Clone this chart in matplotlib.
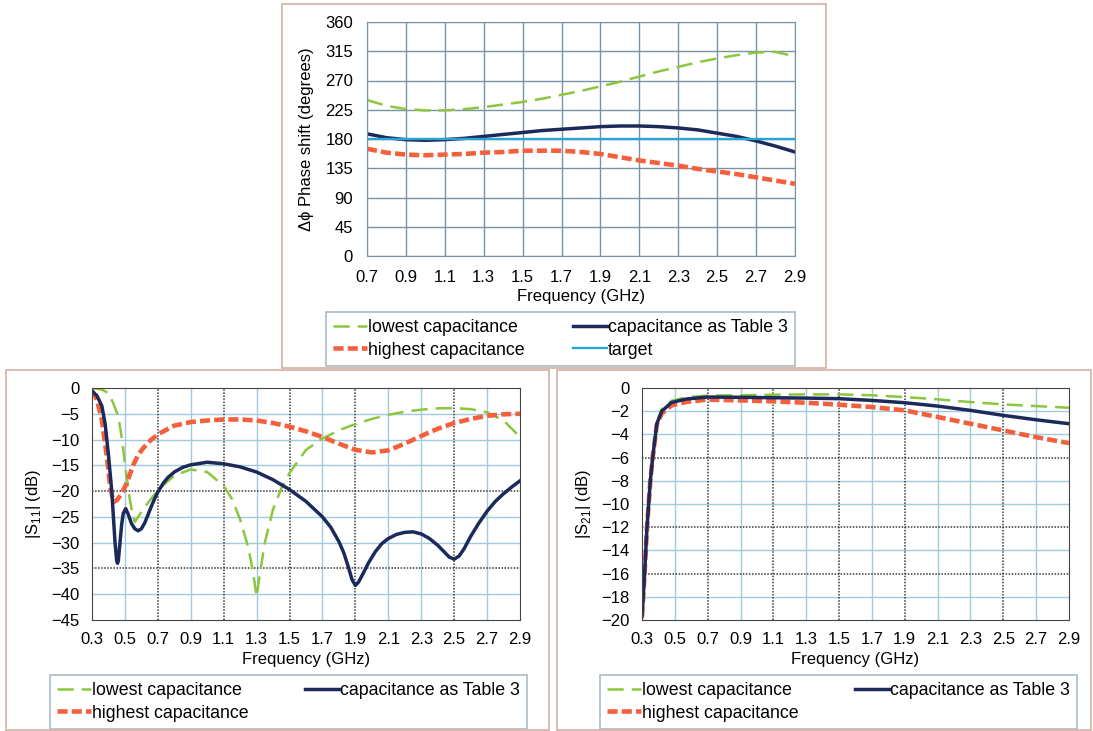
import matplotlib.pyplot as plt
from matplotlib.patches import Rectangle

plt.rcParams["font.family"] = ["Liberation Sans", "DejaVu Sans"]
plt.rcParams["font.size"] = 12

# --- phase shift (top) ---
f_phase = [0.7, 0.8, 0.9, 1.0, 1.1, 1.2, 1.3, 1.4, 1.5, 1.6, 1.7, 1.8,
           1.9, 2.0, 2.1, 2.2, 2.3, 2.4, 2.5, 2.6, 2.7, 2.8, 2.9]
phase_low = [240, 231, 226, 224, 224, 226, 229, 233, 237, 242, 248, 254,
             261, 268, 276, 284, 291, 298, 304, 309, 313, 314, 307]
phase_tab3 = [188, 182, 179, 178, 179, 181, 184, 187, 190, 193, 195, 197,
              199, 200, 200, 199, 197, 194, 189, 184, 177, 169, 160]
phase_high = [165, 159, 156, 155, 156, 157, 159, 160, 162, 162, 162, 160,
              157, 152, 147, 143, 139, 134, 130, 126, 121, 116, 111]
phase_target = [180] * len(f_phase)

# --- S11 (bottom left) ---
f11_low = [0.30, 0.36, 0.40, 0.43, 0.46, 0.48, 0.50, 0.53, 0.55, 0.56, 0.58,
           0.63, 0.70, 0.80, 0.90, 1.00, 1.10, 1.15, 1.20, 1.25, 1.28, 1.30,
           1.32, 1.35, 1.40, 1.45, 1.50, 1.60, 1.70, 1.80, 1.90, 2.00, 2.10,
           2.20, 2.30, 2.40, 2.50, 2.60, 2.70, 2.80, 2.90]
s11_low = [0, -0.3, -1, -3, -5.6, -9.5, -14.6, -21.7, -25, -26, -25,
           -22.7, -19.8, -17, -15.8, -16.3, -19, -21.5, -25.5, -31, -36, -40.5,
           -36, -30, -23.5, -19.5, -16.5, -12, -9.8, -8.2, -7, -6, -5.2,
           -4.6, -4.2, -3.95, -3.9, -4.1, -4.7, -6.3, -9.5]
f11_tab3 = [0.30, 0.33, 0.36, 0.38, 0.39, 0.40, 0.42, 0.43, 0.44, 0.45, 0.455,
            0.46, 0.47, 0.48, 0.49, 0.505, 0.52, 0.54, 0.56, 0.58, 0.60, 0.62,
            0.64, 0.66, 0.68, 0.70, 0.73, 0.76, 0.80, 0.85, 0.90, 1.00, 1.10,
            1.20, 1.30, 1.40, 1.50, 1.60, 1.70, 1.75, 1.80, 1.83, 1.86, 1.88,
            1.90, 1.92, 1.95, 1.98, 2.02, 2.06, 2.10, 2.15, 2.20, 2.25, 2.30,
            2.35, 2.40, 2.44, 2.47, 2.50, 2.53, 2.56, 2.60, 2.65, 2.70, 2.75,
            2.80, 2.85, 2.90]
s11_tab3 = [-0.6, -1.5, -3.5, -7, -10, -13, -20, -25, -30, -33.5, -34,
            -33.5, -30, -26.5, -24.3, -23.4, -24.5, -26.3, -27.3, -27.7, -27.3, -26.2,
            -24.6, -23, -21.5, -20.2, -18.6, -17.4, -16.3, -15.4, -14.9, -14.4, -14.7,
            -15.3, -16.3, -17.8, -19.7, -22, -25, -27, -29.8, -32, -35, -37.2,
            -38.3, -37.6, -35.8, -33.9, -31.8, -30.2, -29.2, -28.4, -28, -27.9, -28.3,
            -29.2, -30.5, -31.8, -32.8, -33.2, -32.6, -31.2, -28.8, -26.2, -23.9, -22,
            -20.5, -19.2, -18]
f11_high = [0.30, 0.33, 0.36, 0.39, 0.41, 0.43, 0.45, 0.48, 0.51, 0.55, 0.58,
            0.61, 0.66, 0.71, 0.80, 0.90, 1.00, 1.10, 1.20, 1.30, 1.40, 1.50,
            1.60, 1.70, 1.80, 1.90, 2.00, 2.10, 2.20, 2.30, 2.40, 2.50, 2.60,
            2.70, 2.80, 2.90]
s11_high = [-0.5, -2.3, -6.2, -13.3, -19, -22.1, -21.8, -20.5, -18.5, -15, -13,
            -11.7, -10, -8.8, -7.3, -6.6, -6.3, -6.1, -6.1, -6.3, -6.8, -7.5,
            -8.4, -9.5, -10.8, -12, -12.5, -12.1, -10.8, -9.3, -7.9, -6.8, -6,
            -5.4, -5.1, -5]

# --- S21 (bottom right) ---
f21 = [0.30, 0.315, 0.33, 0.35, 0.365, 0.39, 0.42, 0.48, 0.57, 0.70, 0.90,
       1.10, 1.30, 1.50, 1.70, 1.90, 2.10, 2.30, 2.50, 2.70, 2.90]
s21_low = [-19.7, -16.2, -12.1, -8.1, -6, -3.0, -1.8, -1.1, -0.8, -0.65, -0.63,
           -0.58, -0.55, -0.55, -0.63, -0.78, -0.98, -1.21, -1.41, -1.56, -1.7]
s21_tab3 = [-19.7, -16.2, -12.1, -8.1, -6, -3.1, -2.0, -1.25, -0.95, -0.78, -0.8,
            -0.84, -0.87, -0.92, -1.07, -1.27, -1.56, -1.93, -2.36, -2.74, -3.08]
s21_high = [-19.7, -16.2, -12.1, -8.1, -6, -3.2, -2.2, -1.5, -1.2, -1.0, -1.07,
            -1.15, -1.27, -1.44, -1.64, -1.93, -2.5, -3.08, -3.66, -4.24, -4.75]

labels = ["lowest capacitance", "highest capacitance",
          "capacitance as Table 3", "target"]

GREEN = "#8cc63f"
RED = "#f4603e"
NAVY = "#1b2a5a"
CYAN = "#2aa3d6"
TOPGRID = "#7893a8"
LIGHTGRID = "#9fcbe0"
DARKGRID = "#3a3a3a"
FRAME = "#d4b2a2"

W, H = 1093, 731
fig = plt.figure(figsize=(W / 100, H / 100), dpi=100)


def box(x0, y0, x1, y1):
    # pixel coords (top-left origin) -> figure fraction
    return [x0 / W, 1 - y1 / H, (x1 - x0) / W, (y1 - y0) / H]


for b in [(282, 4, 826, 368), (6, 370, 549, 730), (557, 370, 1091, 730)]:
    r = box(*b)
    fig.add_artist(Rectangle((r[0], r[1]), r[2], r[3], transform=fig.transFigure,
                             fill=False, edgecolor=FRAME, linewidth=1.2))


def draw_lines(ax, fx, ys):
    lo = ax.plot(fx[0], ys[0], color=GREEN, lw=1.8, dashes=(6.5, 3.2))[0]
    hi = ax.plot(fx[1], ys[1], color=RED, lw=3.3, dashes=(2.2, 0.9))[0]
    t3 = ax.plot(fx[2], ys[2], color=NAVY, lw=2.5)[0]
    return [lo, hi, t3]


def legend(ax, handles, names, b):
    r = box(*b)
    leg = ax.legend(handles, names, ncol=2, loc="center", mode="expand",
                    bbox_to_anchor=r, bbox_transform=fig.transFigure,
                    fancybox=False, handlelength=1.9, handletextpad=0.05,
                    borderaxespad=0, labelspacing=0.3, fontsize=12.8,
                    borderpad=0.4)
    leg.get_frame().set_edgecolor("#93aabb")
    leg.get_frame().set_linewidth(1.2)


# top panel
ax1 = fig.add_axes(box(367, 22, 795, 256))
h = draw_lines(ax1, [f_phase] * 3, [phase_low, phase_high, phase_tab3])
tg = ax1.plot(f_phase, phase_target, color=CYAN, lw=1.7)[0]
ax1.set_xlim(0.7, 2.9)
ax1.set_ylim(0, 360)
xt1 = [0.7, 0.9, 1.1, 1.3, 1.5, 1.7, 1.9, 2.1, 2.3, 2.5, 2.7, 2.9]
ax1.set_xticks(xt1)
ax1.set_xticklabels([f"{v:.1f}" for v in xt1])
ax1.set_yticks(range(0, 361, 45))
ax1.grid(True, color=TOPGRID, lw=1)
ax1.set_axisbelow(True)
for s in ax1.spines.values():
    s.set_color(TOPGRID)
ax1.tick_params(length=0, pad=10)
ax1.set_xlabel("Frequency (GHz)", labelpad=3)
ax1.set_ylabel("Δϕ Phase shift (degrees)", labelpad=8)
legend(ax1, h[:2] + [h[2], tg], labels, (326, 313, 795, 365))

xt = [0.3, 0.5, 0.7, 0.9, 1.1, 1.3, 1.5, 1.7, 1.9, 2.1, 2.3, 2.5, 2.7, 2.9]
dark_x = [0.7, 1.1, 1.5, 1.9, 2.5]


def bottom_axes(ax, yticks, dark_y):
    ax.set_xlim(0.3, 2.9)
    ax.set_xticks(xt)
    ax.set_xticklabels([f"{v:.1f}" for v in xt])
    ax.set_yticks(yticks)
    ax.set_ylim(yticks[0], yticks[-1])
    for v in xt[1:-1]:
        if v in dark_x:
            ax.axvline(v, color=DARKGRID, lw=1.1, ls=(0, (1, 1)), zorder=0.6)
        else:
            ax.axvline(v, color=LIGHTGRID, lw=1, zorder=0.5)
    for v in yticks[1:-1]:
        if v in dark_y:
            ax.axhline(v, color=DARKGRID, lw=1.1, ls=(0, (1, 1)), zorder=0.6)
        else:
            ax.axhline(v, color=LIGHTGRID, lw=1, zorder=0.5)
    for s in ax.spines.values():
        s.set_color("#444444")
    ax.tick_params(length=0, pad=9)
    ax.set_xlabel("Frequency (GHz)", labelpad=3)


# bottom left
ax2 = fig.add_axes(box(92, 388, 520, 620))
h2 = draw_lines(ax2, [f11_low, f11_high, f11_tab3], [s11_low, s11_high, s11_tab3])
bottom_axes(ax2, list(range(-45, 1, 5)), [-20, -35])
ax2.set_ylabel(r"|S$_{\mathregular{11}}$| (dB)", labelpad=6)
legend(ax2, h2, labels[:3], (50, 677, 527, 727))

# bottom right
ax3 = fig.add_axes(box(642, 388, 1069, 620))
h3 = draw_lines(ax3, [f21] * 3, [s21_low, s21_high, s21_tab3])
bottom_axes(ax3, list(range(-20, 1, 2)), [-6, -12, -16])
ax3.set_ylabel(r"|S$_{\mathregular{21}}$| (dB)", labelpad=6)
legend(ax3, h3, labels[:3], (600, 677, 1077, 727))

fig.savefig("out.png", dpi=100)
